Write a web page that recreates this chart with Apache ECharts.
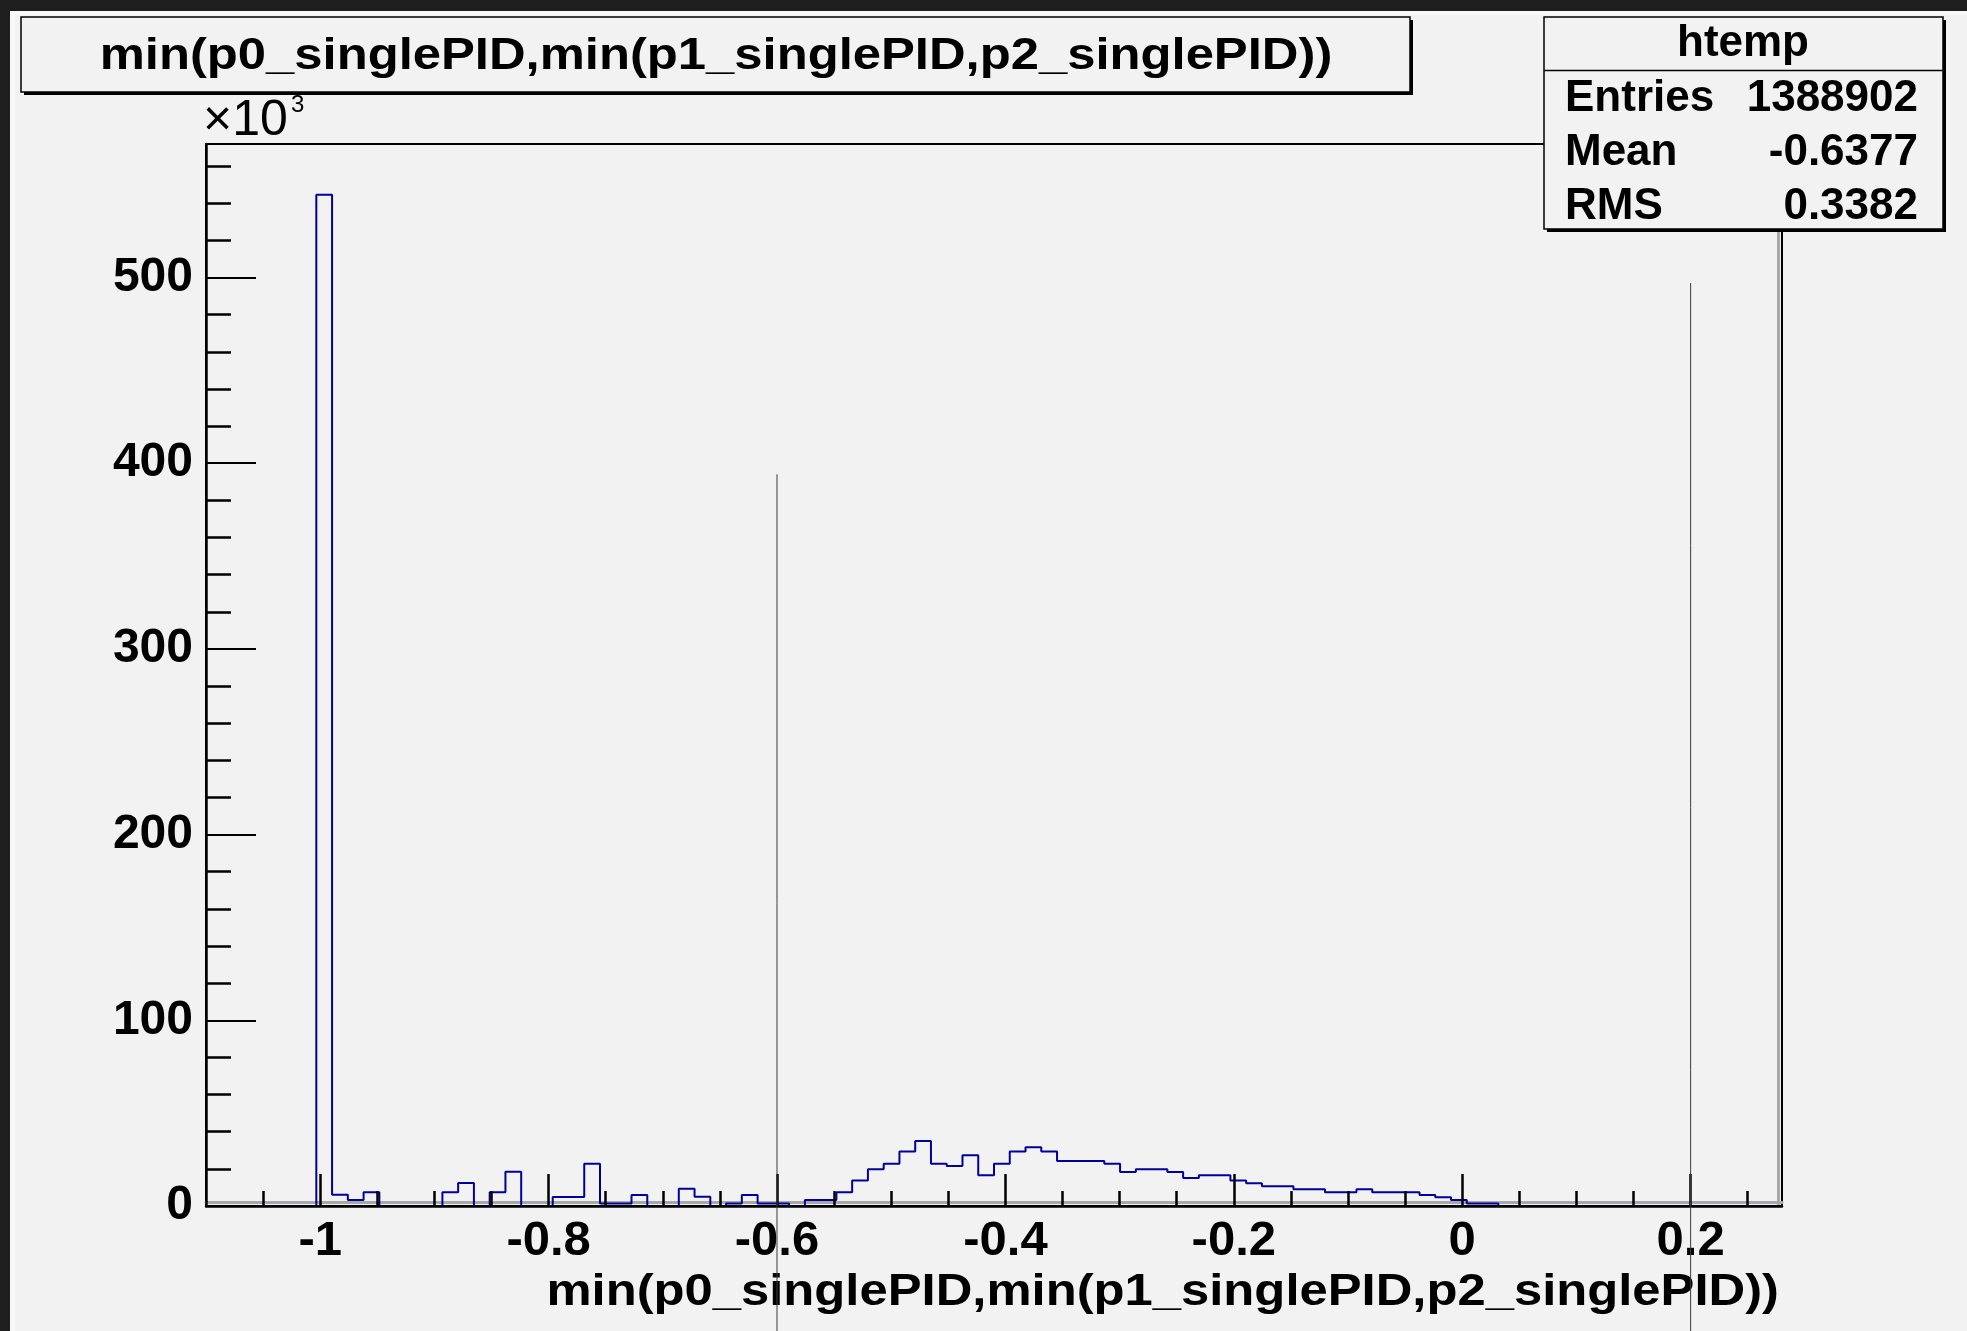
<!DOCTYPE html>
<html>
<head>
<meta charset="utf-8">
<script src="https://cdn.jsdelivr.net/npm/echarts@6/dist/echarts.min.js"></script>
<style>
html,body{margin:0;padding:0;background:#f2f2f2;}
#c{width:1967px;height:1331px;}
</style>
</head>
<body>
<div id="c"></div>
<script>
// ---------------- data ----------------
const titleText = 'min(p0_singlePID,min(p1_singlePID,p2_singlePID))';
const xAxisTitle = 'min(p0_singlePID,min(p1_singlePID,p2_singlePID))';
const histName = 'htemp';
const statLabels = ['Entries', 'Mean', 'RMS'];
const statValues = ['1388902', '-0.6377', '0.3382'];
const yScaleLabel = '\u00d710';
const yScaleExp = '3';

const xMin = -1.1;
const xMax = 0.28;
const nBins = 100;
const yMax = 571.9;   // in units of 10^3 entries

// bin contents (x10^3 entries), bins 0..99
const countsK = [
  0, 0, 0, 0, 0, 0, 0, 544.6, 6, 3.2,
  7.4, 0, 0, 0, 0, 7.4, 12.4, 0, 7.4, 18.5,
  0, 0, 4.8, 4.8, 22.8, 1.4, 1.4, 5.9, 0, 0,
  9.3, 5, 0, 1.4, 5.9, 1.4, 1.4, 0, 3.2, 3.2,
  7.4, 13.7, 19.8, 22.8, 29.3, 35, 22.8, 21.6, 27.3, 16.5,
  22.8, 29.3, 31.6, 29.3, 24.2, 24.2, 24.2, 22.8, 18.3, 19.8,
  19.8, 18.3, 15.1, 16.5, 16.5, 13.7, 12.2, 10.6, 10.6, 9,
  9, 7.4, 7.4, 9, 7.4, 7.4, 7.4, 5.9, 4.7, 3.2,
  1.4, 1.4, 0, 0, 0, 0, 0, 0, 0, 0,
  0, 0, 0, 0, 0, 0, 0, 0, 0, 0
];

const xMajorTicks = [-1, -0.8, -0.6, -0.4, -0.2, 0, 0.2];
const xMinorTicks = [-1.05, -1, -0.95, -0.9, -0.85, -0.8, -0.75, -0.7, -0.65, -0.6, -0.55, -0.5,
  -0.45, -0.4, -0.35, -0.3, -0.25, -0.2, -0.15, -0.1, -0.05, 0, 0.05, 0.1, 0.15, 0.2, 0.25];
const yMajorTicks = [0, 100, 200, 300, 400, 500];
const yMinorTicks = [20, 40, 60, 80, 120, 140, 160, 180, 220, 240, 260, 280, 320, 340, 360, 380,
  420, 440, 460, 480, 520, 540, 560];

// vertical cut lines (x position, top value in 10^3, bottom value below axis)
const cutLineX = [-0.6, 0.2];
const cutLineTop = [394, 497];
const cutLineBottom = -80;

// ---------------- build ----------------
const binWidth = (xMax - xMin) / nBins;
const histData = [[xMin, 0]];
countsK.forEach((v, k) => histData.push([xMin + k * binWidth, v]));
histData.push([xMax, 0]);

const FONT = '"Liberation Sans", Arial, Helvetica, sans-serif';

const cutSeries = cutLineX.map((x, i) => ({
  type: 'line',
  data: [[x, cutLineTop[i]], [x, cutLineBottom]],
  clip: false,
  symbol: 'none',
  showSymbol: false,
  silent: true,
  lineStyle: { color: '#3a3a3a', width: 1 },
  z: 10
}));

const xBase = { type: 'value', min: xMin, max: xMax, position: 'bottom', gridIndex: 0,
  splitLine: { show: false }, minorTick: { show: false } };
const yBase = { type: 'value', min: 0, max: yMax, gridIndex: 0,
  splitLine: { show: false }, minorTick: { show: false } };

function txt(text, x, y, size, align, weight, extra) {
  return Object.assign({
    type: 'text', x: x, y: y, z: 40,
    style: {
      text: text, fill: '#000',
      font: (weight || 'bold') + ' ' + size + 'px ' + FONT,
      fontSize: size, fontFamily: FONT, fontWeight: weight || 'bold',
      align: align, textAlign: align,
      verticalAlign: 'middle', textVerticalAlign: 'middle'
    }
  }, extra || {});
}

const graphics = [
  // outer dark bands
  { type: 'rect', shape: { x: 0, y: 0, width: 1967, height: 11 }, style: { fill: '#1e1e1e' }, z: 50 },
  { type: 'rect', shape: { x: 0, y: 0, width: 10, height: 1331 }, style: { fill: '#1e1e1e' }, z: 50 },
  { type: 'rect', shape: { x: 10, y: 11, width: 1957, height: 4 }, style: { fill: '#f8f8f8' }, z: 1 },
  { type: 'rect', shape: { x: 10, y: 11, width: 5, height: 1320 }, style: { fill: '#f8f8f8' }, z: 1 },
  // title box
  { type: 'rect', shape: { x: 24, y: 20, width: 1389, height: 75 }, style: { fill: '#000' }, z: 30 },
  { type: 'rect', shape: { x: 21, y: 17, width: 1389, height: 75 }, style: { fill: '#f2f2f2', stroke: '#000', lineWidth: 1.5 }, z: 31 },
  txt(titleText, 716, 57, 45, 'center', 'bold', { scaleX: 1.128 }),
  // stats box
  { type: 'rect', shape: { x: 1547, y: 20, width: 399, height: 212 }, style: { fill: '#000' }, z: 30 },
  { type: 'rect', shape: { x: 1544, y: 17, width: 399, height: 212 }, style: { fill: '#f2f2f2', stroke: '#000', lineWidth: 1.5 }, z: 31 },
  { type: 'line', shape: { x1: 1544, y1: 70.5, x2: 1943, y2: 70.5 }, style: { stroke: '#000', lineWidth: 1.5 }, z: 32 },
  txt(histName, 1743, 44, 44, 'center', 'bold'),
  txt(statLabels[0], 1565, 99, 44, 'left', 'bold'),
  txt(statLabels[1], 1565, 153, 44, 'left', 'bold'),
  txt(statLabels[2], 1565, 207, 44, 'left', 'bold'),
  txt(statValues[0], 1918, 99, 44, 'right', 'bold'),
  txt(statValues[1], 1918, 153, 44, 'right', 'bold'),
  txt(statValues[2], 1918, 207, 44, 'right', 'bold'),
  // x10^3
  txt(yScaleLabel, 203, 121, 50, 'left', 'normal'),
  txt(yScaleExp, 291, 105, 24, 'left', 'normal'),
  // x axis title
  Object.assign(txt(xAxisTitle, 1779, 1293, 45, 'right', 'bold', { scaleX: 1.128 }), { z: 3 })
];

const option = {
  backgroundColor: '#f2f2f2',
  animation: false,
  grid: { left: 206, top: 144, width: 1576, height: 1062, show: true,
    borderColor: '#000', borderWidth: 2, backgroundColor: 'transparent' },
  xAxis: [
    Object.assign({}, xBase, {
      z: 8,
      axisLine: { show: true, onZero: false, lineStyle: { color: '#000', width: 2.5 } },
      axisTick: { show: true, inside: true, length: 32, lineStyle: { color: '#000', width: 2.5 }, customValues: xMajorTicks },
      axisLabel: { show: true, customValues: xMajorTicks, margin: 11, fontFamily: FONT, fontWeight: 'bold', fontSize: 49, color: '#000' }
    }),
    Object.assign({}, xBase, {
      z: 8,
      axisLine: { show: false, onZero: false },
      axisTick: { show: true, inside: true, length: 15, lineStyle: { color: '#000', width: 2.5 }, customValues: xMinorTicks },
      axisLabel: { show: false }
    }),
    Object.assign({}, xBase, {
      z: 2, offset: -3.5,
      axisLine: { show: true, onZero: false, lineStyle: { color: '#a8a8a8', width: 3 } },
      axisTick: { show: false },
      axisLabel: { show: false }
    })
  ],
  yAxis: [
    Object.assign({}, yBase, {
      position: 'left', z: 8,
      axisLine: { show: true, onZero: false, lineStyle: { color: '#000', width: 2.5 } },
      axisTick: { show: true, inside: true, length: 50, lineStyle: { color: '#000', width: 2 }, customValues: yMajorTicks },
      axisLabel: { show: true, customValues: yMajorTicks, margin: 13, fontFamily: FONT, fontWeight: 'bold', fontSize: 48, color: '#000' }
    }),
    Object.assign({}, yBase, {
      position: 'left', z: 8,
      axisLine: { show: false, onZero: false },
      axisTick: { show: true, inside: true, length: 25, lineStyle: { color: '#000', width: 2.5 }, customValues: yMinorTicks },
      axisLabel: { show: false }
    }),
    Object.assign({}, yBase, {
      position: 'right', z: 2, offset: -3.5,
      axisLine: { show: true, onZero: false, lineStyle: { color: '#a8a8a8', width: 3 } },
      axisTick: { show: false },
      axisLabel: { show: false }
    })
  ],
  series: [
    {
      type: 'line',
      xAxisIndex: 0, yAxisIndex: 0,
      data: histData,
      step: 'end',
      symbol: 'none',
      showSymbol: false,
      silent: true,
      lineStyle: { color: '#000099', width: 2 },
      z: 4
    }
  ].concat(cutSeries),
  graphic: graphics
};

const chart = echarts.init(document.getElementById('c'), null, { renderer: 'canvas', width: 1967, height: 1331 });
chart.setOption(option);
</script>
</body>
</html>
